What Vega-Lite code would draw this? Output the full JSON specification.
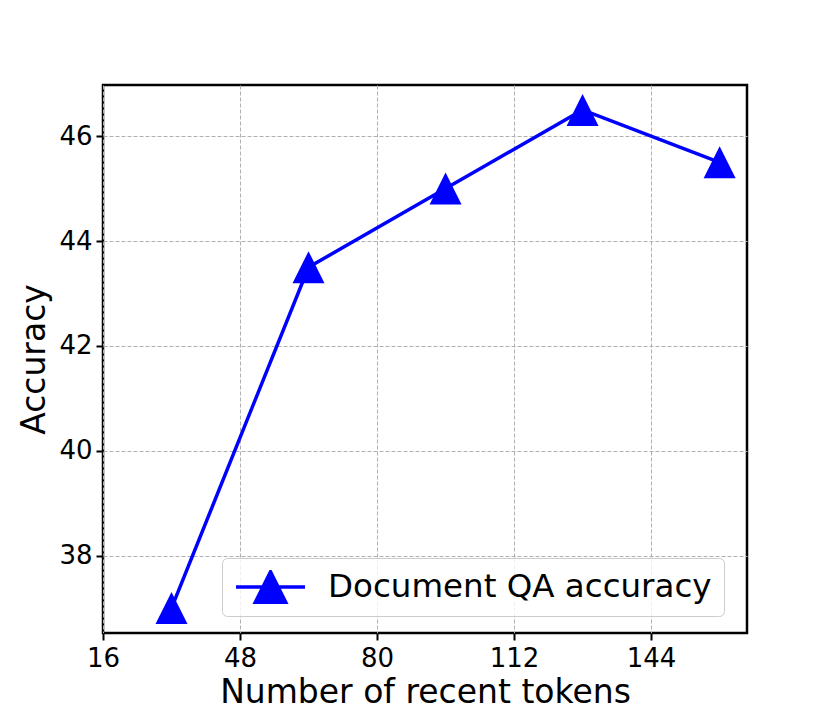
{
  "$schema": "https://vega.github.io/schema/vega-lite/v6.json",
  "autosize": {"type": "none"},
  "padding": {"left": 103, "top": 85, "right": 83, "bottom": 79},
  "width": 644,
  "height": 548,
  "background": "white",
  "config": {
    "font": "DejaVu Sans",
    "view": {"stroke": "black", "strokeWidth": 2.5},
    "axis": {
      "domain": false,
      "grid": true,
      "gridColor": "#b0b0b0",
      "gridDash": [4, 2],
      "gridWidth": 1,
      "tickColor": "black",
      "tickWidth": 2,
      "tickSize": 7,
      "labelFont": "DejaVu Sans",
      "labelFontSize": 26,
      "labelColor": "black",
      "labelPadding": 4,
      "labelFlush": false,
      "titleFont": "DejaVu Sans",
      "titleFontSize": 33,
      "titleFontWeight": "normal",
      "titleColor": "black"
    }
  },
  "data": {
    "values": [
      {"tokens": 32, "accuracy": 37.0, "series": "Document QA accuracy"},
      {"tokens": 64, "accuracy": 43.5, "series": "Document QA accuracy"},
      {"tokens": 96, "accuracy": 45.0, "series": "Document QA accuracy"},
      {"tokens": 128, "accuracy": 46.5, "series": "Document QA accuracy"},
      {"tokens": 160, "accuracy": 45.5, "series": "Document QA accuracy"}
    ]
  },
  "encoding": {
    "x": {
      "field": "tokens",
      "type": "quantitative",
      "scale": {"domain": [16, 166.4], "nice": false, "zero": false},
      "axis": {"values": [16, 48, 80, 112, 144], "title": "Number of recent tokens", "titlePadding": 5, "labelPadding": 5, "labelFlush": false}
    },
    "y": {
      "field": "accuracy",
      "type": "quantitative",
      "scale": {"domain": [36.525, 46.975], "nice": false, "zero": false},
      "axis": {"values": [38, 40, 42, 44, 46], "title": "Accuracy", "titlePadding": 7}
    }
  },
  "layer": [
    {
      "mark": {"type": "line", "color": "blue", "strokeWidth": 3.5}
    },
    {
      "mark": {"type": "point", "shape": "M0,-1L1,1L-1,1Z", "size": 1024, "filled": true, "opacity": 1},
      "encoding": {
        "color": {
          "field": "series",
          "type": "nominal",
          "scale": {"range": ["blue"]},
          "legend": {
            "title": null,
            "orient": "none",
            "legendX": 119,
            "legendY": 473,
            "padding": 12,
            "fillColor": "rgba(255,255,255,0.8)",
            "strokeColor": "#cccccc",
            "cornerRadius": 5,
            "symbolType": "M-1,0H1M0,-0.44L0.44,0.44L-0.44,0.44Z",
            "symbolSize": 4761,
            "symbolFillColor": "blue",
            "symbolStrokeColor": "blue",
            "symbolStrokeWidth": 3.5,
            "symbolOpacity": 1,
            "clipHeight": 34,
            "labelFont": "DejaVu Sans",
            "labelFontSize": 32.5,
            "labelColor": "black",
            "labelOffset": 21,
            "labelLimit": 1000,
            "encode": {
              "symbols": {
                "update": {
                  "fill": {"value": "blue"},
                  "stroke": {"value": "blue"},
                  "strokeWidth": {"value": 3.5},
                  "opacity": {"value": 1}
                }
              }
            }
          }
        }
      }
    }
  ]
}
